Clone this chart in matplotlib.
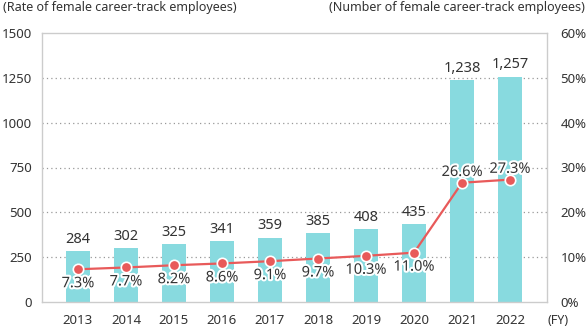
import matplotlib
matplotlib.use("Agg")
import matplotlib.pyplot as plt
import matplotlib.patheffects as pe

years = ["2013", "2014", "2015", "2016", "2017", "2018", "2019", "2020", "2021", "2022"]
counts = [284, 302, 325, 341, 359, 385, 408, 435, 1238, 1257]
count_labels = ["284", "302", "325", "341", "359", "385", "408", "435", "1,238", "1,257"]
rates = [7.3, 7.7, 8.2, 8.6, 9.1, 9.7, 10.3, 11.0, 26.6, 27.3]
left_ticks = [0, 250, 500, 750, 1000, 1250, 1500]
right_ticks = [0, 10, 20, 30, 40, 50, 60]

plt.rcParams['font.family'] = ['Noto Sans', 'DejaVu Sans']
txt = '#333333'
W, H = 587, 329
fig = plt.figure(figsize=(W/100, H/100), dpi=100)
ax = fig.add_axes([41.5/W, 1-302/H, (546.5-41.5)/W, (302-33)/H])
x = list(range(len(years)))

ax.bar(x, counts, width=0.5, color='#88DADF', zorder=2)
ax.set_xlim(-0.76, 9.76)
ax.set_ylim(0, 1500)
ax.set_yticks(left_ticks)
ax.set_yticklabels([str(t) for t in left_ticks])
ax.set_xticks(x)
ax.set_xticklabels(years)
ax.tick_params(axis='both', length=0, labelsize=9.5, colors=txt)
ax.tick_params(axis='x', pad=9)
ax.tick_params(axis='y', pad=7)
for t in left_ticks[1:-1]:
    ax.axhline(t, color='#999999', lw=0.9, ls=(0, (1, 2.5)), zorder=1)
for s in ax.spines.values():
    s.set_color('#cccccc')
    s.set_linewidth(1.0)

for xi, c, lab in zip(x, counts, count_labels):
    ax.annotate(lab, (xi, c), xytext=(0, 3), textcoords='offset points',
                ha='center', va='bottom', fontsize=10.5, color=txt, zorder=5)

ax2 = ax.twinx()
ax2.set_ylim(0, 60)
ax2.set_yticks(right_ticks)
ax2.set_yticklabels([f"{t}%" for t in right_ticks])
ax2.tick_params(axis='y', length=0, labelsize=9.5, colors=txt, pad=10)
for s in ax2.spines.values():
    s.set_visible(False)
ax2.plot(x, rates, color='#E85A5A', lw=1.6, marker='o', ms=7.5,
         mfc='#E85A5A', mec='white', mew=1.2, zorder=4)
outline = [pe.withStroke(linewidth=3, foreground='white')]
for xi, r in zip(x, rates):
    if r > 20:
        ax2.annotate(f"{r:.1f}%", (xi, r), xytext=(0, 2), textcoords='offset points',
                     ha='center', va='bottom', fontsize=10.5, color=txt, path_effects=outline, zorder=6)
    else:
        ax2.annotate(f"{r:.1f}%", (xi, r), xytext=(0, -5), textcoords='offset points',
                     ha='center', va='top', fontsize=10.5, color=txt, path_effects=outline, zorder=6)

fig.text(3/W, 1-7/H, "(Rate of female career-track employees)", ha='left', va='center',
         fontsize=9, color=txt)
fig.text(585/W, 1-7/H, "(Number of female career-track employees)", ha='right', va='center',
         fontsize=9, color=txt)
fig.text(548/W, 1-320/H, "(FY)", ha='left', va='center', fontsize=9, color=txt)

fig.savefig("out.png", dpi=100)
